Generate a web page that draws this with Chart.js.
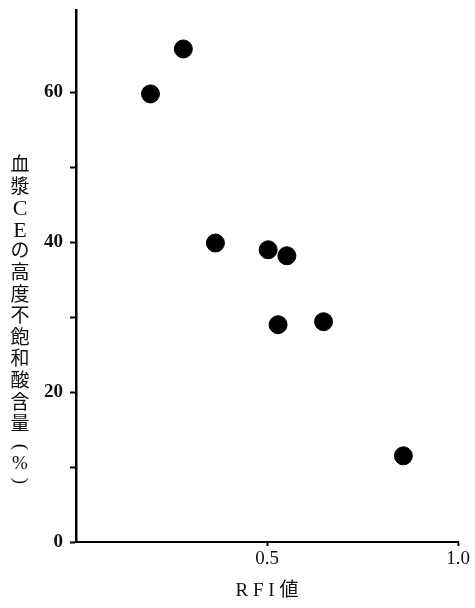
<!DOCTYPE html>
<html>
<head>
<meta charset="utf-8">
<script src="https://cdn.jsdelivr.net/npm/chart.js@4/dist/chart.umd.min.js"></script>
<style>
  html, body { margin: 0; padding: 0; background: #fff; }
</style>
</head>
<body>
<canvas id="myChart" width="475" height="608"></canvas>
<script>
// RFI値 vs 血漿CEの高度不飽和酸含量(%)
const rfi = [0.195, 0.281, 0.365, 0.503, 0.552, 0.529, 0.648, 0.857];
const ceContent = [59.8, 65.8, 39.9, 39.0, 38.2, 29.0, 29.4, 11.5];
const xTicks = [0.5, 1.0];
const yTicks = [0, 10, 20, 30, 40, 50, 60];
const yLabelTicks = [0, 20, 40, 60];
const xTitle = "R F I 値";
const yTitle = "血漿CEの高度不飽和酸含量(%)";

const serif = "'Liberation Serif', 'DejaVu Serif', 'Noto Sans CJK JP', serif";

// y axis title is written top-to-bottom, one character under the other
const verticalTitle = {
  id: "verticalTitle",
  afterDraw(chart) {
    const ctx = chart.ctx;
    const chars = Array.from(yTitle);
    ctx.save();
    ctx.fillStyle = "#111";
    ctx.textAlign = "center";
    ctx.textBaseline = "middle";
    let y = 166;
    chars.forEach((ch) => {
      const narrow = ch === "(" || ch === ")" || ch === "%";
      const latin = ch === "C" || ch === "E";
      ctx.font = (latin ? "22px " : "19px ") + serif;
      const step = narrow ? 17 : 21.6;
      if (ch === "(" || ch === ")") {
        ctx.save();
        ctx.translate(20, y);
        ctx.rotate(Math.PI / 2);
        ctx.fillText(ch, 0, 0);
        ctx.restore();
      } else {
        ctx.fillText(ch, 20, y);
      }
      y += step;
    });
    ctx.restore();
  },
};

const ctx = document.getElementById("myChart");
new Chart(ctx, {
  type: "scatter",
  data: {
    datasets: [
      {
        data: rfi.map((x, i) => ({ x: x, y: ceContent[i] })),
        backgroundColor: "#000",
        borderColor: "#000",
        pointRadius: 9,
        pointHoverRadius: 9,
      },
    ],
  },
  options: {
    responsive: false,
    animation: false,
    devicePixelRatio: 1,
    layout: { padding: { top: 7, right: 17, left: 0, bottom: 0 } },
    plugins: {
      legend: { display: false },
      tooltip: { enabled: false },
    },
    scales: {
      x: {
        type: "linear",
        min: 0,
        max: 1.0,
        afterBuildTicks: (axis) => {
          axis.ticks = xTicks.map((v) => ({ value: v }));
        },
        afterFit: (scale) => {
          scale.height = 66;
        },
        grid: {
          drawOnChartArea: false,
          drawTicks: true,
          tickLength: 4,
          tickColor: "#000",
          tickWidth: 2,
        },
        border: { display: true, color: "#000", width: 2 },
        ticks: {
          padding: 2,
          color: "#111",
          font: { family: serif, size: 19 },
          callback: (v) => Number(v).toFixed(1),
        },
        title: {
          display: true,
          text: xTitle,
          color: "#111",
          font: { family: serif, size: 19 },
          padding: { top: 0, bottom: 6 },
        },
      },
      y: {
        type: "linear",
        min: 0,
        max: 71,
        afterBuildTicks: (axis) => {
          axis.ticks = yTicks.map((v) => ({ value: v }));
        },
        afterFit: (scale) => {
          scale.width = 76;
          scale.paddingTop = 0;
          scale.paddingBottom = 0;
        },
        grid: {
          drawOnChartArea: false,
          drawTicks: true,
          tickLength: 6,
          tickColor: "#000",
          tickWidth: 2,
        },
        border: { display: true, color: "#000", width: 2.5 },
        ticks: {
          padding: 7,
          color: "#111",
          font: { family: serif, size: 19, weight: "bold" },
          callback: (v) => (yLabelTicks.includes(v) ? String(v) : ""),
        },
      },
    },
  },
  plugins: [verticalTitle],
});
</script>
</body>
</html>
